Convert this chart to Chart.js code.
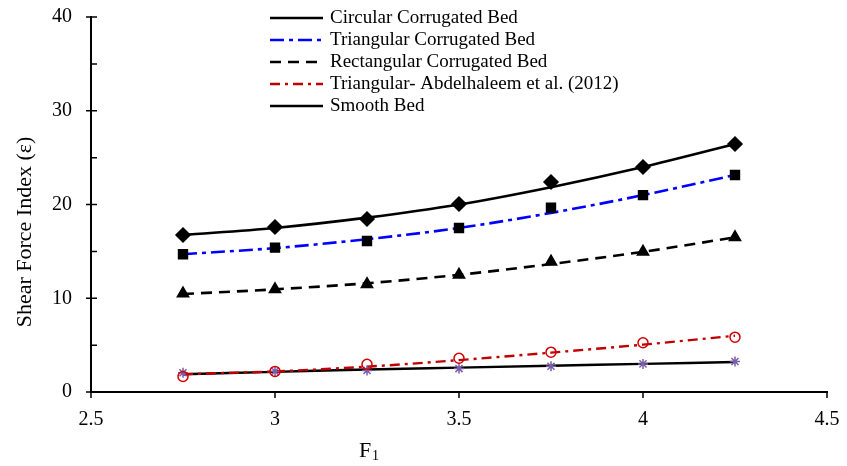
<!DOCTYPE html>
<html lang="en">
<head>
<meta charset="UTF-8">
<title>Shear Force Index</title>
<script src="https://cdn.jsdelivr.net/npm/chart.js"></script>
<style>
  body { margin: 0; background: white; }
  canvas { display: block; }
</style>
</head>
<body>
<canvas id="chart" width="847" height="466"></canvas>
<script>
// Froude number values (x)
const froude = [2.75, 3.0, 3.25, 3.5, 3.75, 4.0, 4.25];

// measured points
const circular = [16.75, 17.6, 18.45, 20.05, 22.4, 24.0, 26.45];
const triangular = [14.7, 15.4, 16.1, 17.5, 19.65, 21.0, 23.15];
const rectangular = [10.5, 10.95, 11.5, 12.5, 13.9, 14.95, 16.5];
const abdelhaleem = [1.65, 2.2, 2.95, 3.6, 4.25, 5.25, 5.85];
const smooth = [2.05, 2.2, 2.3, 2.5, 2.75, 3.0, 3.25];

// trend lines
const circularFit = [16.75, 17.5, 18.6, 20.0, 21.85, 24.0, 26.45];
const triangularFit = [14.7, 15.35, 16.3, 17.5, 19.1, 21.0, 23.15];
const rectangularFit = [10.45, 10.95, 11.6, 12.5, 13.65, 14.95, 16.5];
const abdelhaleemFit = [1.9, 2.2, 2.7, 3.4, 4.2, 5.05, 6.0];
const smoothFit = [1.9, 2.15, 2.4, 2.6, 2.8, 3.0, 3.2];

const seriesLabels = [
  'Circular Corrugated Bed',
  'Triangular Corrugated Bed',
  'Rectangular Corrugated Bed',
  'Triangular- Abdelhaleem et al. (2012)',
  'Smooth Bed'
];

const xTicks = [2.5, 3, 3.5, 4, 4.5];
const yTicks = [0, 10, 20, 30, 40];
const yMinorTicks = [5, 15, 25, 35];

const FONT = '"Liberation Serif", "Times New Roman", serif';

function pts(ys) {
  return froude.map((x, i) => ({ x: x, y: ys[i] }));
}

function lineSet(label, ys, color, dash, width) {
  return {
    label: label, data: pts(ys), borderColor: color, borderDash: dash,
    borderWidth: width, pointRadius: 0, cubicInterpolationMode: 'monotone',
    fill: false, showLine: true, order: 2, isLegend: true
  };
}

function markerSet(ys, style, radius, fillColor, strokeColor) {
  return {
    data: pts(ys), showLine: false, pointStyle: style, pointRadius: radius,
    backgroundColor: fillColor, borderColor: strokeColor, pointBorderWidth: 1.5,
    order: 1
  };
}

// legend drawn inside plot area, plus ticks and axis titles
const decorations = {
  id: 'decorations',
  afterDraw(chart) {
    const ctx = chart.ctx;
    const xs = chart.scales.x, ys = chart.scales.y;
    const area = chart.chartArea;
    ctx.save();
    ctx.strokeStyle = '#000';
    ctx.lineWidth = 1.5;
    ctx.setLineDash([]);
    ctx.beginPath();
    yTicks.forEach(v => {
      const py = ys.getPixelForValue(v);
      ctx.moveTo(area.left - 5, py); ctx.lineTo(area.left + 6, py);
    });
    yMinorTicks.forEach(v => {
      const py = ys.getPixelForValue(v);
      ctx.moveTo(area.left, py); ctx.lineTo(area.left + 6, py);
    });
    xTicks.forEach(v => {
      const px = xs.getPixelForValue(v);
      ctx.moveTo(px, area.bottom); ctx.lineTo(px, area.bottom + 6);
    });
    ctx.stroke();

    // legend
    let y = 18;
    chart.data.datasets.filter(d => d.isLegend).forEach(d => {
      ctx.beginPath();
      ctx.strokeStyle = d.borderColor;
      ctx.lineWidth = d.borderWidth;
      ctx.setLineDash(d.borderDash || []);
      ctx.moveTo(270, y); ctx.lineTo(323, y);
      ctx.stroke();
      ctx.setLineDash([]);
      ctx.fillStyle = '#000';
      ctx.font = '19px ' + FONT;
      ctx.textBaseline = 'middle';
      ctx.textAlign = 'left';
      ctx.fillText(d.label, 330, y);
      y += 22;
    });

    // y title
    ctx.save();
    ctx.translate(25, 232);
    ctx.rotate(-Math.PI / 2);
    ctx.font = '22px ' + FONT;
    ctx.textAlign = 'center';
    ctx.textBaseline = 'middle';
    ctx.fillText('Shear Force Index (\u03b5)', 0, 0);
    ctx.restore();

    // x title F1
    ctx.font = '22px ' + FONT;
    ctx.textAlign = 'left';
    ctx.textBaseline = 'alphabetic';
    ctx.fillText('F', 359, 457);
    ctx.font = '14px ' + FONT;
    ctx.fillText('1', 372, 460);
    ctx.restore();
  }
};

new Chart(document.getElementById('chart'), {
  type: 'scatter',
  data: {
    datasets: [
      lineSet(seriesLabels[0], circularFit, '#000000', [], 2.6),
      lineSet(seriesLabels[1], triangularFit, '#0000ff', [14, 5, 4, 5], 2.6),
      lineSet(seriesLabels[2], rectangularFit, '#000000', [11, 7], 2.6),
      lineSet(seriesLabels[3], abdelhaleemFit, '#c00000', [10, 5, 3, 5], 2.4),
      lineSet(seriesLabels[4], smoothFit, '#000000', [], 2.4),
      markerSet(circular, 'rectRot', 7, '#000', '#000'),
      markerSet(triangular, 'rect', 6.3, '#000', '#000'),
      markerSet(rectangular, 'triangle', 6.5, '#000', '#000'),
      markerSet(abdelhaleem, 'circle', 5, 'rgba(0,0,0,0)', '#d00000'),
      markerSet(smooth, 'star', 5, 'rgba(0,0,0,0)', '#7a5fa8')
    ]
  },
  options: {
    responsive: false,
    animation: false,
    layout: { padding: { top: 17, right: 20, left: 0, bottom: 0 } },
    plugins: { legend: { display: false }, tooltip: { enabled: false } },
    scales: {
      x: {
        type: 'linear', min: 2.5, max: 4.5,
        afterFit: s => { s.height = 74; s.paddingLeft = 0; s.paddingRight = 0; },
        afterBuildTicks: s => { s.ticks = xTicks.map(v => ({ value: v })); },
        grid: { drawOnChartArea: false, drawTicks: false },
        border: { color: '#000', width: 2 },
        ticks: { color: '#000', padding: 16, font: { family: FONT, size: 20 },
                 callback: v => String(v) }
      },
      y: {
        min: 0, max: 40,
        afterFit: s => { s.width = 91; s.paddingTop = 0; s.paddingBottom = 0; },
        afterBuildTicks: s => { s.ticks = yTicks.map(v => ({ value: v })); },
        grid: { drawOnChartArea: false, drawTicks: false },
        border: { color: '#000', width: 2 },
        ticks: { color: '#000', padding: 19, font: { family: FONT, size: 20 } }
      }
    }
  },
  plugins: [decorations]
});
</script>
</body>
</html>
